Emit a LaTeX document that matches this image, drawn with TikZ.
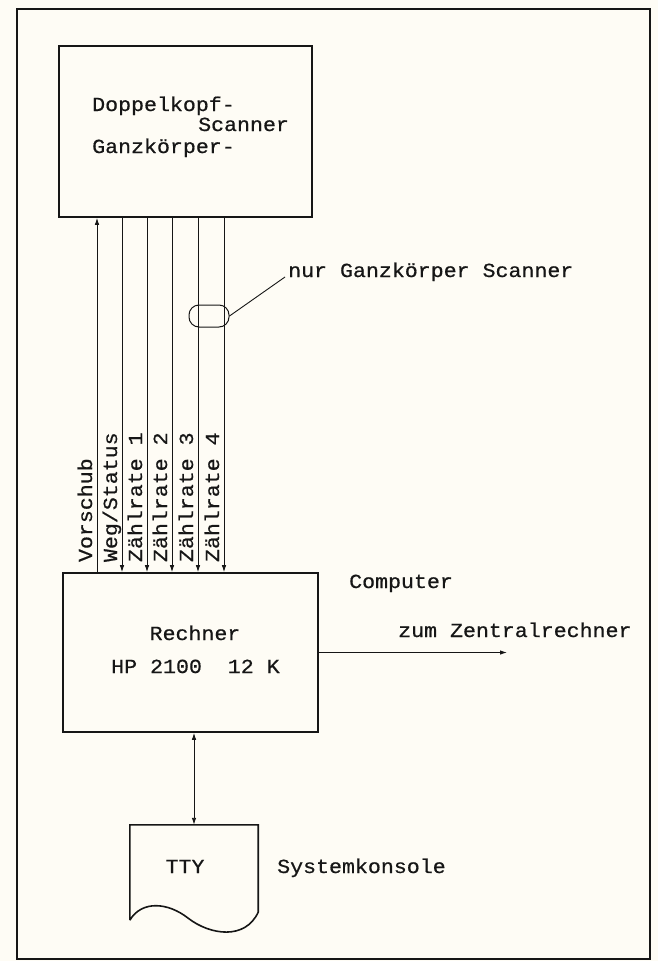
\documentclass[tikz,border=0pt]{standalone}
\usepackage{fontspec}
\newfontfamily\plotfont[FakeStretch=1.08,FakeBold=0.6]{Liberation Mono}
\usetikzlibrary{arrows.meta,positioning,calc}
\definecolor{scink}{HTML}{161616}
\definecolor{scpaper}{HTML}{FEFCF5}
\tikzstyle{scbox}=[draw=scink,line width=1.6pt,inner sep=0pt]
\tikzstyle{sctext}=[text=scink,font=\plotfont\fontsize{20pt}{22pt}\selectfont,inner sep=0pt]
\tikzstyle{scsig}=[draw=scink,line width=0.9pt]
\tikzstyle{scarrow}=[scsig,-{Latex[length=7pt,width=4.5pt]}]

\begin{document}
\begin{tikzpicture}[x=1pt,y=-1pt]
    \fill[scpaper] (0,0) rectangle (658,961);
    \useasboundingbox (0,0) rectangle (658,961);
    \draw[scink,line width=1.4pt] (17,9) rectangle (650,959);

    % scanner block
    \node[scbox,minimum width=253pt,minimum height=171pt] (scanner) at (185.5,131.5) {};
    \node[sctext,anchor=base west] (dk) at (92,111) {Doppelkopf-};
    \node[sctext,anchor=base west] (sc) at (198,131) {Scanner};
    \node[sctext,anchor=base west] (gk) at (92,153) {Ganzkörper-};

    % computer block
    \node[scbox,minimum width=255pt,minimum height=159pt] (rechner) at (190.5,652.5) {};
    \node[sctext,anchor=base] (re) at (195,640) {Rechner};
    \node[sctext,anchor=base west] (hp) at (111,673) {HP 2100~~12~K};
    \node[sctext,anchor=base west] (comp) at (349,588) {Computer};

    % signal lines between the blocks
    \coordinate (sig1) at (97,400);
    \coordinate (sig2) at (122,400);
    \coordinate (sig3) at (147,400);
    \coordinate (sig4) at (172,400);
    \coordinate (sig5) at (198,400);
    \coordinate (sig6) at (224,400);
    \draw[scarrow] (rechner.north -| sig1) -- (scanner.south -| sig1);
    \draw[scarrow] (scanner.south -| sig2) -- (rechner.north -| sig2);
    \draw[scarrow] (scanner.south -| sig3) -- (rechner.north -| sig3);
    \draw[scarrow] (scanner.south -| sig4) -- (rechner.north -| sig4);
    \draw[scarrow] (scanner.south -| sig5) -- (rechner.north -| sig5);
    \draw[scarrow] (scanner.south -| sig6) -- (rechner.north -| sig6);
    \node[sctext,rotate=90,anchor=base west] (lab1) at ($(rechner.north -| sig1)+(-5,-10)$) {Vorschub};
    \node[sctext,rotate=90,anchor=base west] (lab2) at ($(rechner.north -| sig2)+(-5,-10)$) {Weg/Status};
    \node[sctext,rotate=90,anchor=base west] (lab3) at ($(rechner.north -| sig3)+(-5,-10)$) {Zählrate 1};
    \node[sctext,rotate=90,anchor=base west] (lab4) at ($(rechner.north -| sig4)+(-5,-10)$) {Zählrate 2};
    \node[sctext,rotate=90,anchor=base west] (lab5) at ($(rechner.north -| sig5)+(-5,-10)$) {Zählrate 3};
    \node[sctext,rotate=90,anchor=base west] (lab6) at ($(rechner.north -| sig6)+(-5,-10)$) {Zählrate 4};

    % bundle mark for the whole-body scanner lines
    \node[draw=scink,line width=1pt,rounded corners=10pt,minimum width=40pt,minimum height=22pt,inner sep=0pt] (bundle) at (209,316) {};
    \node[sctext,anchor=base west] (nur) at (288,277) {nur Ganzkörper Scanner};
    \draw[scsig] (bundle.east) -- ([xshift=-3pt]nur.base west);

    % link to the central computer
    \coordinate (zend) at (507,653);
    \node[sctext,anchor=base west] (zum) at (398,637) {zum Zentralrechner};
    \draw[scarrow] (rechner.east) -- (rechner.east -| zend);

    % console
    \node[minimum width=128pt,minimum height=95pt,inner sep=0pt] (tty) at (194,872.5) {};
    \draw[scink,line width=1.6pt] (tty.south west) -- (tty.north west) -- (tty.north east)
      -- ($(tty.south east)+(0,-8)$)
      .. controls ($(tty.south east)+(-13,20)$) and ($(tty.south east)+(-48,15)$) .. ($(tty.south east)+(-70,-2)$)
      .. controls ($(tty.south west)+(38,-18)$) and ($(tty.south west)+(12,-20)$) .. (tty.south west);
    \node[sctext,anchor=base] (ttyl) at (185,873) {TTY};
    \node[sctext,anchor=base west] (kons) at (277,873) {Systemkonsole};
    \draw[scsig,{Latex[length=7pt,width=4.5pt]}-{Latex[length=7pt,width=4.5pt]}] (rechner.south -| tty.north) -- (tty.north);
\end{tikzpicture}
\end{document}
